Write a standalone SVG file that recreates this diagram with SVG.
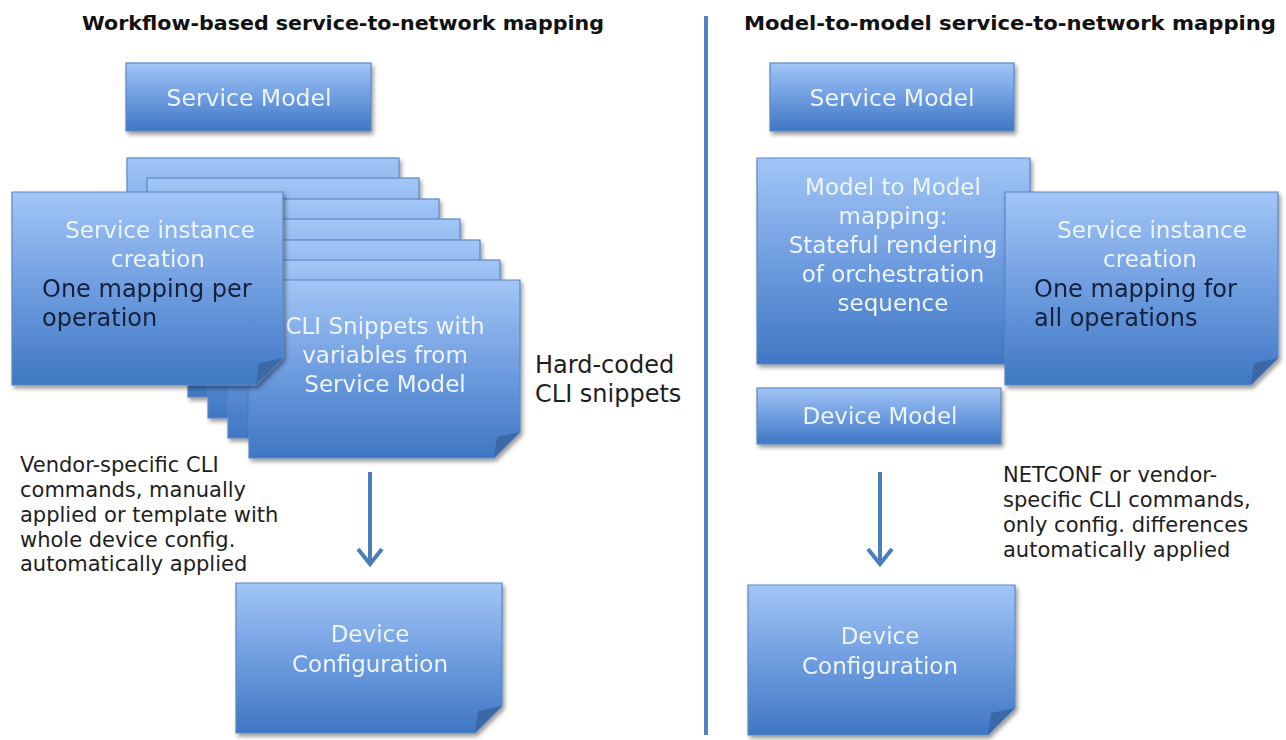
<svg xmlns="http://www.w3.org/2000/svg" width="1286" height="740" viewBox="0 0 1286 740">
  <defs>
    <linearGradient id="boxFill" x1="0" y1="0" x2="0" y2="1">
      <stop offset="0" stop-color="#a2c6f6"/>
      <stop offset="0.5" stop-color="#6f9de0"/>
      <stop offset="1" stop-color="#3f77c3"/>
    </linearGradient>
    <filter id="shadow" x="-10%" y="-10%" width="125%" height="130%">
      <feGaussianBlur in="SourceAlpha" stdDeviation="2.2"/>
      <feOffset dx="2" dy="3" result="b"/>
      <feComponentTransfer><feFuncA type="linear" slope="0.4"/></feComponentTransfer>
      <feMerge><feMergeNode/><feMergeNode in="SourceGraphic"/></feMerge>
    </filter>
  </defs>
  <style>
    .box { fill: url(#boxFill); stroke: #5d88c4; stroke-width: 1.2; }
    .fold { fill: #3a69a8; }
    .lt { font-family: "DejaVu Sans", "Liberation Sans", sans-serif; fill: #eef4fc; text-anchor: middle; font-size: 23px; }
    .lt.big { font-size: 23.5px; }
    .dk { font-family: "DejaVu Sans", "Liberation Sans", sans-serif; fill: #12203a; font-size: 24px; }
    .note { font-family: "DejaVu Sans", "Liberation Sans", sans-serif; fill: #1e1e1e; font-size: 21px; }
    .note.big { font-size: 24px; }
    .title { font-family: "DejaVu Sans", "Liberation Sans", sans-serif; font-weight: bold; fill: #111111; text-anchor: middle; font-size: 20px; }
    .conn { stroke: #4a7ebb; stroke-width: 4; fill: none; }
  </style>

  <rect width="1286" height="740" fill="#ffffff"/>

  <!-- headings -->
  <text class="title" x="343" y="30" textLength="522" lengthAdjust="spacingAndGlyphs">Workflow-based service-to-network mapping</text>
  <text class="title" x="1010" y="30" textLength="532" lengthAdjust="spacingAndGlyphs">Model-to-model service-to-network mapping</text>

  <!-- connectors -->
  <g id="connectors">
    <line x1="706" y1="16" x2="706" y2="735" stroke="#5282bf" stroke-width="4"/>
    <line class="conn" x1="370" y1="472" x2="370" y2="562"/>
    <path class="conn" d="M358 549 L370 564 L382 549" stroke-linejoin="miter"/>
    <line class="conn" x1="880" y1="472" x2="880" y2="562"/>
    <path class="conn" d="M868 549 L880 564 L892 549" stroke-linejoin="miter"/>
  </g>

  <!-- left column -->
  <g id="service-model-left" filter="url(#shadow)">
    <rect class="box" x="126" y="63" width="245" height="68"/>
    <text class="lt big" x="249" y="106">Service Model</text>
  </g>

  <g id="cli-stack" filter="url(#shadow)">
    <rect class="box" x="127" y="158" width="272" height="178"/>
    <rect class="box" x="147" y="178" width="272" height="178"/>
    <rect class="box" x="167" y="199" width="272" height="178"/>
    <rect class="box" x="188" y="219" width="272" height="178"/>
    <rect class="box" x="208" y="240" width="272" height="178"/>
    <rect class="box" x="228" y="260" width="272" height="178"/>
  </g>

  <g id="cli-snippets" filter="url(#shadow)">
    <path class="box" d="M249 280 H520 V432 L494 458 H249 Z"/>
    <path class="fold" d="M520 432 L494 458 L497 437 Z"/>
    <text class="lt" x="385" y="334">CLI Snippets with</text>
    <text class="lt" x="385" y="363">variables from</text>
    <text class="lt" x="385" y="392">Service Model</text>
  </g>

  <g id="service-instance-left" filter="url(#shadow)">
    <path class="box" d="M12 192 H283 V358 L256 385 H12 Z"/>
    <path class="fold" d="M283 358 L256 385 L259 363 Z"/>
    <text class="lt" x="160" y="238">Service instance</text>
    <text class="lt" x="158" y="267">creation</text>
    <text class="dk" x="42" y="297">One mapping per</text>
    <text class="dk" x="42" y="326">operation</text>
  </g>

  <g id="hard-coded-label">
    <text class="note big" x="535" y="373">Hard-coded</text>
    <text class="note big" x="535" y="402">CLI snippets</text>
  </g>

  <g id="left-note">
    <text class="note" x="20" y="472">Vendor-specific CLI</text>
    <text class="note" x="20" y="497">commands, manually</text>
    <text class="note" x="20" y="522">applied or template with</text>
    <text class="note" x="20" y="547">whole device config.</text>
    <text class="note" x="20" y="571">automatically applied</text>
  </g>

  <g id="device-config-left" filter="url(#shadow)">
    <path class="box" d="M236 583 H502 V706 L475 733 H236 Z"/>
    <path class="fold" d="M502 706 L475 733 L478 711 Z"/>
    <text class="lt" x="370" y="642">Device</text>
    <text class="lt" x="370" y="672">Configuration</text>
  </g>

  <!-- right column -->
  <g id="service-model-right" filter="url(#shadow)">
    <rect class="box" x="770" y="63" width="244" height="68"/>
    <text class="lt big" x="892" y="106">Service Model</text>
  </g>

  <g id="model-mapping" filter="url(#shadow)">
    <path class="box" d="M757 158 H1030 V338 L1004 364 H757 Z"/>
    <path class="fold" d="M1030 338 L1004 364 L1007 343 Z"/>
    <text class="lt" x="893" y="195">Model to Model</text>
    <text class="lt" x="893" y="224">mapping:</text>
    <text class="lt" x="893" y="253">Stateful rendering</text>
    <text class="lt" x="893" y="282">of orchestration</text>
    <text class="lt" x="893" y="311">sequence</text>
  </g>

  <g id="service-instance-right" filter="url(#shadow)">
    <path class="box" d="M1005 192 H1278 V358 L1251 385 H1005 Z"/>
    <path class="fold" d="M1278 358 L1251 385 L1254 363 Z"/>
    <text class="lt" x="1152" y="238">Service instance</text>
    <text class="lt" x="1150" y="267">creation</text>
    <text class="dk" x="1034" y="297">One mapping for</text>
    <text class="dk" x="1034" y="326">all operations</text>
  </g>

  <g id="device-model" filter="url(#shadow)">
    <rect class="box" x="757" y="388" width="244" height="56"/>
    <text class="lt" x="880" y="424">Device Model</text>
  </g>

  <g id="right-note">
    <text class="note" x="1003" y="482">NETCONF or vendor-</text>
    <text class="note" x="1003" y="507">specific CLI commands,</text>
    <text class="note" x="1003" y="532">only config. differences</text>
    <text class="note" x="1003" y="557">automatically applied</text>
  </g>

  <g id="device-config-right" filter="url(#shadow)">
    <path class="box" d="M748 585 H1015 V708 L988 735 H748 Z"/>
    <path class="fold" d="M1015 708 L988 735 L991 713 Z"/>
    <text class="lt" x="880" y="644">Device</text>
    <text class="lt" x="880" y="674">Configuration</text>
  </g>
</svg>
